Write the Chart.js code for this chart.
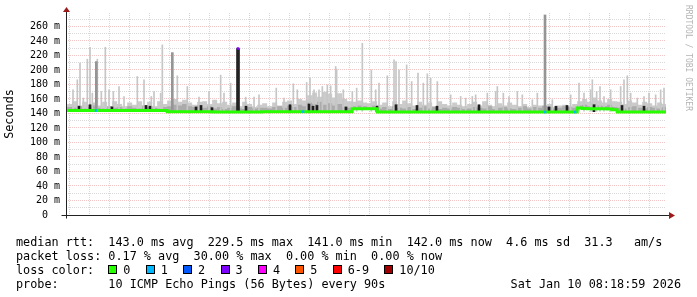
<!DOCTYPE html>
<html><head><meta charset="utf-8">
<script src="https://cdn.jsdelivr.net/npm/chart.js@4"></script>
<style>
html,body{margin:0;padding:0;background:#fff;}
#wrap{position:relative;width:697px;height:297px;overflow:hidden;background:#fff;}
#c{position:absolute;left:0;top:0;}
.txt{position:absolute;font-family:'DejaVu Sans Mono',monospace;font-size:11.8px;line-height:14px;white-space:pre;color:#000;}
.sq{position:absolute;width:9px;height:9px;border:1px solid #000;box-sizing:border-box;}
#rrd{position:absolute;left:683px;top:5px;font-family:'DejaVu Sans Mono',monospace;font-size:8px;line-height:10px;color:#b4b4b4;writing-mode:vertical-rl;white-space:pre;}
</style>
</head><body>
<div id="wrap">
<canvas id="c" width="697" height="297"></canvas>
<div id="rrd">RRDTOOL / TOBI OETIKER</div>
<div class="txt" id="l1" style="left:16px;top:234.5px"></div>
<div class="txt" id="l2" style="left:16px;top:248.5px"></div>
<div class="txt" id="l3" style="left:16px;top:262.5px"></div>
<div class="txt" id="l4" style="left:16px;top:276.5px"></div>
<div class="txt" id="l4r" style="right:16px;top:276.5px"></div>
</div>
<script>
// ---- data (hours after Fri 00:00) ----
const slotStart = 2.25, slotStep = 0.25;
const medianRtt = [
144,144,144,144,144,144,144,144,144,144,144,144,144,144,144,144,144,144,144,144,144,
142.5,142.5,142.5,142.5,142.5,142.5,142.5,142.5,142.5,
142,142,142,142,142,142,142,142,142,142,
142.5,142.5,142.5,142.5,142.5,142.5,142.5,142.5,142.5,142.5,142.5,142.5,142.5,142.5,142.5,142.5,142.5,142.5,
146.5,146.5,146.5,146.5,146.5,
142,142,142,142,142,142,142,142,142,142,142,142,142,142,142,142,142,142,142,142,
142,142,142,142,142,142,142,142,142,142,142,142,142,142,142,142,142,142,142,142,
147.5,147,146.5,146.5,146.5,146.5,146,145,
142,142,142,142,142,142,142,142,142,142,142
];
const smokeTop = [
150,153,157,151,156,152,155,151,156,150,157,153,150,155,152,157,151,156,150,157,
153,158,160,156,159,155,152,156,157,153,159,154,156,152,155,150,156,153,149,152,
154,150,155,151,156,158,153,160,158,165,169,163,170,167,162,168,160,157,156,158,
155,154,157,152,155,150,157,153,158,154,151,156,152,155,150,157,153,151,155,152,
150,153,156,151,157,152,150,154,151,155,152,150,153,149,152,151,150,153,149,151,
152,150,153,157,160,156,162,158,155,160,157,156,153,158,155,152,156,154,151,155,
153,152
];
const smokeMid = [
147,149,148,150,147,149,151,148,147,150,148,149,147,150,148,147,151,149,148,147,149,
150,152,151,153,150,149,151,148,150,
147,149,146,148,150,147,146,149,147,148,
148,147,149,150,148,151,149,152,150,155,153,156,152,154,151,153,149,148,
150,151,150,149,151,
147,149,146,150,148,147,149,146,148,150,147,149,146,148,147,149,148,146,147,149,
148,147,150,146,148,149,147,146,148,150,147,149,148,151,149,147,148,150,149,148,
151,152,150,153,151,150,152,149,
148,147,149,150,148,147,149,148,147,149,148
];
const spikeHours = [2.667,2.883,3.017,3.183,3.383,3.517,3.633,3.883,4.083,4.283,4.467,4.683,4.967,5.217,
5.883,6.217,6.583,6.717,7.05,7.133,7.883,8.383,8.967,9.467,10.05,10.217,10.55,11.3,11.717,11.967,
12.83,13.217,13.683,13.883,14.35,14.517,14.717,14.967,15.133,15.383,15.55,15.8,15.85,16.183,16.633,
16.85,17.133,17.583,17.8,17.967,18.383,18.717,18.817,18.967,19.35,19.6,19.917,20.183,20.383,20.55,
20.883,21.55,22.05,22.3,22.633,22.8,23.383,23.8,23.883,24.183,24.467,24.883,25.133,25.633,25.883,
26.633,27.55,27.967,28.217,28.55,28.633,28.85,29.017,29.217,29.55,30.05,30.217,30.383,30.55,30.883,
31.217,31.467,31.8,32.05,32.217];
const spikeTops = [172.6,186.4,209.3,161.2,214.8,231.3,168,214.8,170.3,231.3,172.6,170.3,177.2,163.4,
190.9,186.4,163.4,170.3,168,234.5,191.9,177.2,162.5,170.3,192.8,168,181.8,162.5,162.5,165.7,
174.9,161.2,180.9,172.6,182.7,188.7,172.6,172.6,177.2,179.5,178.1,204.7,201.1,172.6,170.3,
174.9,236.8,200.1,172.6,181.8,191.9,213.9,211.5,200.1,207,184,195.6,181.8,194.6,188.7,
184,165.7,163.4,161.2,163.4,165.7,168,170.3,177.2,168,163.4,170.3,165.7,158.9,168,
158.9,165.7,181.8,168,172.6,186.4,170.3,177.2,163.4,172.6,177.2,186.4,191.9,168,161.2,
163.4,168,165.7,172.6,174.9];
const darkSpikeHours = [3.833, 7.633, 26.267];
const darkSpikeTops = [211.5, 223.9, 275.8];
const darkHours = [2.967,3.517,4.617,6.317,6.517,8.817,9.067,9.617,11.317,13.517,14.467,14.667,14.867,
16.317,17.867,18.817,19.867,20.867,22.967,26.467,26.817,27.367,28.717,30.117,31.217];
const darkTops = [150,152,149,151,150,149,151,148,150,152,153,150,151,149,150,152,151,150,152,149,150,151,152,151,150];
const peakHours = [10.917];
const peakTops = [229.5];
const lossHours = [3.817, 14.167, 26.267, 27.767, 10.917];
const lossValues = [144, 142.5, 142, 142, 229.5];
const lossLevels = [1, 1, 1, 1, 3];
const lossLabels = ['0','1','2','3','4','5','6-9','10/10'];
const xLabelHours = [6, 12, 18, 24, 30];
const xLabels = ['Fri 06:00','Fri 12:00','Fri 18:00','Sat 00:00','Sat 06:00'];
const viewStart = 2 + 19/60, viewHours = 30;
const yMax = 278.5;

const legendLine1 = 'median rtt:  143.0 ms avg  229.5 ms max  141.0 ms min  142.0 ms now  4.6 ms sd  31.3   am/s';
const legendLine2 = 'packet loss: 0.17 % avg  30.00 % max  0.00 % min  0.00 % now';
const legendLine4 = 'probe:       10 ICMP Echo Pings (56 Bytes) every 90s';
const stampText = 'Sat Jan 10 08:18:59 2026';

// ---- styles ----
const lossColors = ['#26ff00','#00b8ff','#0059ff','#7e00ff','#ff00ff','#ff5500','#ff0000','#a10000'];
const MONO = "'DejaVu Sans Mono', monospace";

// ---- text ----
document.getElementById('l1').textContent = legendLine1;
document.getElementById('l2').textContent = legendLine2;
document.getElementById('l3').textContent = 'loss color:';
document.getElementById('l4').textContent = legendLine4;
document.getElementById('l4r').textContent = stampText;
(function(){
  const wrap = document.getElementById('wrap');
  const cw = 7.1;
  let x = 16 + 13*cw;
  lossLabels.forEach((lab, i) => {
    const s = document.createElement('div');
    s.className = 'sq'; s.style.left = x + 'px'; s.style.top = '265px'; s.style.background = lossColors[i];
    wrap.appendChild(s);
    const t = document.createElement('div');
    t.className = 'txt'; t.style.left = (x + 15) + 'px'; t.style.top = '262.5px'; t.textContent = lab;
    wrap.appendChild(t);
    x += 15 + lab.length*cw + 15.3;
  });
})();

const slots = medianRtt.map((_, i) => slotStart + i*slotStep);
const pts = (xs, ys) => xs.map((h, i) => ({x: h, y: ys[i]}));
const bars = (xs, ys, base) => xs.map((h, i) => ({x: h, y: [base, ys[i]]}));

const axesPlugin = {
  id: 'axesArrows',
  afterDatasetsDraw(chart) {
    const {ctx} = chart, xs = chart.scales.x, ys = chart.scales.y;
    const x0 = Math.round(xs.getPixelForValue(xs.min)) + 0.5;
    const x1 = xs.getPixelForValue(xs.max);
    const y0 = Math.round(ys.getPixelForValue(0)) + 0.5;
    const y1 = ys.getPixelForValue(ys.max);
    ctx.save();
    ctx.strokeStyle = '#222'; ctx.lineWidth = 1;
    ctx.beginPath();
    ctx.moveTo(x0 - 5, y0); ctx.lineTo(x1 + 3, y0);
    ctx.moveTo(x0, y0 + 3); ctx.lineTo(x0, y1 - 2);
    ctx.stroke();
    ctx.fillStyle = '#9b1b1b';
    ctx.beginPath();
    ctx.moveTo(x0, y1 - 6); ctx.lineTo(x0 - 3.5, y1 - 1); ctx.lineTo(x0 + 3.5, y1 - 1); ctx.closePath(); ctx.fill();
    ctx.beginPath();
    ctx.moveTo(x1 + 9, y0); ctx.lineTo(x1 + 3, y0 - 3.5); ctx.lineTo(x1 + 3, y0 + 3.5); ctx.closePath(); ctx.fill();
    ctx.restore();
  }
};

const majorGrid = 'rgba(225,120,120,0.42)';
const minorGrid = 'rgba(160,160,160,0.4)';

new Chart(document.getElementById('c'), {
  type: 'line',
  data: {
    datasets: [
      { type: 'line', data: pts(slots, medianRtt), borderColor: lossColors[0], borderWidth: 3,
        pointRadius: 0, stepped: 'middle', fill: false, order: 0 },
      { type: 'line', data: pts(slots, smokeTop), borderWidth: 0, borderColor: 'rgba(0,0,0,0)',
        backgroundColor: '#cbcbcb', pointRadius: 0, stepped: 'middle', fill: 0, order: 7 },
      { type: 'line', data: pts(slots, smokeMid), borderWidth: 0, borderColor: 'rgba(0,0,0,0)',
        backgroundColor: '#ababab', pointRadius: 0, stepped: 'middle', fill: 0, order: 6 },
      { type: 'bar', data: bars(spikeHours, spikeTops, 143), backgroundColor: '#c6c6c6',
        barThickness: 1, grouped: false, order: 5 },
      { type: 'bar', data: bars(darkSpikeHours, darkSpikeTops, 143), backgroundColor: '#959595',
        barThickness: 2, grouped: false, order: 4 },
      { type: 'bar', data: bars(darkHours, darkTops, 142.5), backgroundColor: '#1e1e1e',
        barThickness: 2, grouped: false, order: 3 },
      { type: 'bar', data: bars(peakHours, peakTops, 142), backgroundColor: '#222',
        barThickness: 3, grouped: false, order: 2 },
      { type: 'line', data: pts(lossHours, lossValues), showLine: false, pointStyle: 'rect',
        pointRadius: 1.8, pointBorderWidth: 0,
        pointBackgroundColor: lossLevels.map(l => lossColors[l]), order: -1 }
    ]
  },
  options: {
    responsive: false, animation: false, devicePixelRatio: 1,
    layout: { padding: { left: 0, right: 31, top: 13, bottom: 82 } },
    plugins: { legend: { display: false }, tooltip: { enabled: false } },
    scales: {
      x: {
        type: 'linear', min: viewStart, max: viewStart + viewHours, offset: false,
        afterBuildTicks: s => { const t = []; for (let h = Math.ceil(viewStart); h <= viewStart + viewHours; h++) t.push({value: h}); s.ticks = t; },
        afterFit: s => { s.height = 0; },
        ticks: { autoSkip: false, maxRotation: 0, padding: 4, color: '#000',
          font: { family: MONO, size: 10 },
          callback: v => { const k = xLabelHours.indexOf(v); return k >= 0 ? xLabels[k] : ''; } },
        grid: { drawTicks: false, lineWidth: 1,
          color: c => (c.tick && c.tick.value % 3 === 0) ? majorGrid : minorGrid },
        border: { display: false, dash: [1, 1] }
      },
      y: {
        type: 'linear', min: 0, max: yMax,
        afterBuildTicks: s => { const t = []; for (let v = 0; v <= yMax; v += 10) t.push({value: v}); s.ticks = t; },
        afterFit: s => { s.width = 66; },
        ticks: { autoSkip: false, padding: 6, color: '#000', font: { family: MONO, size: 10 },
          callback: v => v % 20 === 0 ? (v === 0 ? '0  ' : v + ' m') : '' },
        grid: { drawTicks: false, lineWidth: 1,
          color: c => (c.tick && c.tick.value % 20 === 0) ? majorGrid : minorGrid },
        border: { display: false, dash: [1, 1] },
        title: { display: true, text: 'Seconds', color: '#000', font: { family: MONO, size: 11.8 }, padding: 3 }
      }
    }
  },
  plugins: [axesPlugin]
});
</script>
</body></html>
